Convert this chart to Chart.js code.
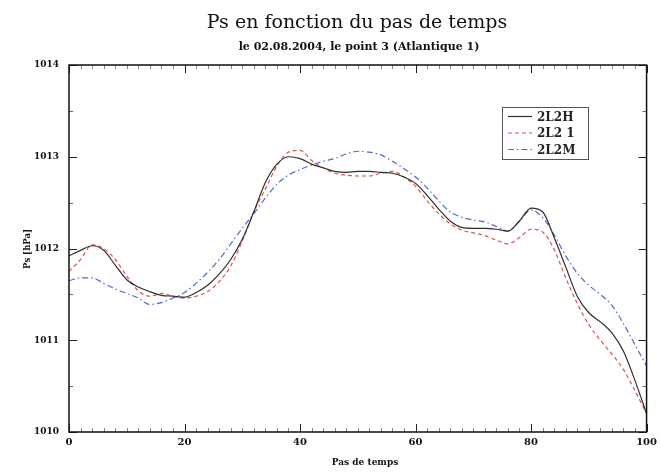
<!DOCTYPE html>
<html>
<head>
<meta charset="utf-8">
<script src="https://cdn.jsdelivr.net/npm/chart.js@4/dist/chart.umd.min.js"></script>
<style>
  html, body { margin: 0; padding: 0; background: #fff; }
  #wrap { width: 661px; height: 472px; }
</style>
</head>
<body>
<div id="wrap"><canvas id="c" width="661" height="472"></canvas></div>
<script>
// Time steps (pas de temps)
const steps = [0, 2, 4, 6, 8, 10, 12, 14, 16, 18, 20, 22, 24, 26, 28, 30, 32, 34, 36, 38, 40,
  42, 44, 46, 48, 50, 52, 54, 56, 58, 60, 62, 64, 66, 68, 70, 72, 74, 76, 78, 80,
  82, 84, 86, 88, 90, 92, 94, 96, 98, 100];

// Surface pressure Ps [hPa] for each run
const ps2L2H = [1011.92, 1011.98, 1012.03, 1011.98, 1011.82, 1011.66, 1011.58, 1011.53, 1011.49, 1011.48, 1011.47,
  1011.52, 1011.60, 1011.72, 1011.88, 1012.10, 1012.40, 1012.72, 1012.92, 1013.00, 1012.98,
  1012.92, 1012.88, 1012.84, 1012.83, 1012.84, 1012.84, 1012.83, 1012.82, 1012.78, 1012.71,
  1012.58, 1012.43, 1012.30, 1012.23, 1012.22, 1012.22, 1012.21, 1012.19, 1012.30, 1012.44,
  1012.40, 1012.12, 1011.80, 1011.48, 1011.30, 1011.20, 1011.08, 1010.88, 1010.56, 1010.20];

const ps2L21 = [1011.75, 1011.88, 1012.04, 1012.00, 1011.88, 1011.70, 1011.54, 1011.48, 1011.51, 1011.48, 1011.46,
  1011.48, 1011.53, 1011.64, 1011.81, 1012.08, 1012.40, 1012.65, 1012.90, 1013.05, 1013.07,
  1012.96, 1012.88, 1012.82, 1012.80, 1012.79, 1012.79, 1012.82, 1012.84, 1012.78, 1012.68,
  1012.52, 1012.38, 1012.27, 1012.20, 1012.17, 1012.14, 1012.09, 1012.05, 1012.12, 1012.21,
  1012.18, 1011.99, 1011.68, 1011.40, 1011.17, 1011.00, 1010.85, 1010.68, 1010.45, 1010.20];

const ps2L2M = [1011.65, 1011.68, 1011.68, 1011.62, 1011.56, 1011.51, 1011.46, 1011.39, 1011.41, 1011.46, 1011.52,
  1011.62, 1011.74, 1011.88, 1012.05, 1012.22, 1012.38, 1012.55, 1012.70, 1012.80, 1012.86,
  1012.91, 1012.95, 1012.98, 1013.03, 1013.06, 1013.05, 1013.02, 1012.95, 1012.87, 1012.78,
  1012.66, 1012.52, 1012.40, 1012.34, 1012.31, 1012.29, 1012.24, 1012.19, 1012.30, 1012.42,
  1012.34, 1012.15, 1011.92, 1011.73, 1011.60, 1011.50, 1011.38, 1011.18, 1010.95, 1010.72];

const seriesNames = ['2L2H', '2L2 1', '2L2M'];

// Axis ranges and tick steps
const xMin = 0, xMax = 100, xMajor = 20, xMinor = 2;
const yMin = 1010, yMax = 1014, yMajor = 1, yMinor = 0.5;

const titleText = 'Ps en fonction du pas de temps';
const subtitleText = 'le 02.08.2004, le point 3 (Atlantique 1)';
const xTitle = 'Pas de temps';
const yTitle = 'Ps [hPa]';

const SERIF = '"DejaVu Serif", "Liberation Serif", serif';

const toPoints = arr => steps.map((s, i) => ({ x: s, y: arr[i] }));

const styles = [
  { color: '#2e302e', dash: [] },
  { color: '#e2504a', dash: [4, 3] },
  { color: '#5166dc', dash: [6, 3, 1.5, 3] }
];

const datasets = [ps2L2H, ps2L21, ps2L2M].map((arr, i) => ({
  label: seriesNames[i],
  data: toPoints(arr),
  borderColor: styles[i].color,
  borderDash: styles[i].dash,
  borderWidth: 1.2,
  pointRadius: 0,
  fill: false,
  cubicInterpolationMode: 'monotone'
}));

// Frame, inward tick marks on all four sides, titles and the boxed legend
const framePlugin = {
  id: 'frame',
  afterDatasetsDraw(chart) {
    const { ctx, chartArea: a, scales } = chart;
    const xs = scales.x, ys = scales.y;
    ctx.save();
    ctx.lineWidth = 1;
    for (let v = xMin; v <= xMax + 1e-9; v += xMinor) {
      const px = Math.round(xs.getPixelForValue(v)) + 0.5;
      const major = Math.abs(v / xMajor - Math.round(v / xMajor)) < 1e-6;
      const len = major ? 8 : 4;
      ctx.strokeStyle = major ? '#222' : '#888';
      ctx.beginPath();
      ctx.moveTo(px, a.bottom); ctx.lineTo(px, a.bottom - len);
      ctx.moveTo(px, a.top); ctx.lineTo(px, a.top + len);
      ctx.stroke();
    }
    for (let v = yMin; v <= yMax + 1e-9; v += yMinor) {
      const py = Math.round(ys.getPixelForValue(v)) + 0.5;
      const major = Math.abs(v / yMajor - Math.round(v / yMajor)) < 1e-6;
      const len = major ? 8 : 4;
      ctx.strokeStyle = major ? '#222' : '#666';
      ctx.beginPath();
      ctx.moveTo(a.left, py); ctx.lineTo(a.left + len, py);
      ctx.moveTo(a.right, py); ctx.lineTo(a.right - len, py);
      ctx.stroke();
    }
    // frame
    ctx.strokeStyle = '#111';
    ctx.lineWidth = 1.5;
    ctx.strokeRect(a.left, a.top, a.right - a.left, a.bottom - a.top);

    // legend box
    const lx = 502, ly = 107, lw = 86, lh = 52;
    ctx.fillStyle = '#fff';
    ctx.fillRect(lx, ly, lw, lh);
    ctx.lineWidth = 1;
    ctx.strokeStyle = '#555';
    ctx.strokeRect(lx + 0.5, ly + 0.5, lw, lh);
    ctx.font = 'bold 12px ' + SERIF;
    ctx.textBaseline = 'middle';
    ctx.textAlign = 'left';
    chart.data.datasets.forEach((ds, i) => {
      const yy = ly + 9.5 + i * 16.5;
      ctx.strokeStyle = ds.borderColor;
      ctx.setLineDash(ds.borderDash);
      ctx.lineWidth = 1.2;
      ctx.beginPath();
      ctx.moveTo(lx + 6, yy); ctx.lineTo(lx + 30, yy);
      ctx.stroke();
      ctx.setLineDash([]);
      ctx.fillStyle = '#222';
      ctx.fillText(ds.label, lx + 35, yy + 1);
    });

    // titles
    ctx.fillStyle = '#111';
    ctx.textAlign = 'center';
    ctx.textBaseline = 'alphabetic';
    ctx.font = '19px ' + SERIF;
    ctx.fillText(titleText, 357, 28);
    ctx.font = 'bold 11px ' + SERIF;
    ctx.fillText(subtitleText, 359, 50);
    ctx.font = 'bold 9px ' + SERIF;
    ctx.fillText(xTitle, 365, 465);
    ctx.save();
    ctx.translate(30, 249);
    ctx.rotate(-Math.PI / 2);
    ctx.font = 'bold 8.5px ' + SERIF;
    ctx.fillText(yTitle, 0, 0);
    ctx.restore();
    ctx.restore();
  }
};

new Chart(document.getElementById('c'), {
  type: 'line',
  data: { datasets },
  options: {
    responsive: false,
    animation: false,
    events: [],
    layout: { padding: { top: 65, right: 14, left: 0, bottom: 0 } },
    plugins: { legend: { display: false }, tooltip: { enabled: false }, title: { display: false } },
    scales: {
      x: {
        type: 'linear',
        min: xMin, max: xMax,
        grid: { display: false, drawTicks: false },
        border: { display: false },
        ticks: { stepSize: xMajor, padding: 4, color: '#111', font: { family: SERIF, size: 10, weight: 'bold' }, maxRotation: 0,
          callback: v => String(v) },
        afterFit(s) { s.height = 40; }
      },
      y: {
        type: 'linear',
        min: yMin, max: yMax,
        grid: { display: false, drawTicks: false },
        border: { display: false },
        ticks: { stepSize: yMajor, padding: 10, color: '#111', font: { family: SERIF, size: 9, weight: 'bold' },
          callback: v => String(v) },
        afterFit(s) { s.width = 69; }
      }
    }
  },
  plugins: [framePlugin]
});
</script>
</body>
</html>
